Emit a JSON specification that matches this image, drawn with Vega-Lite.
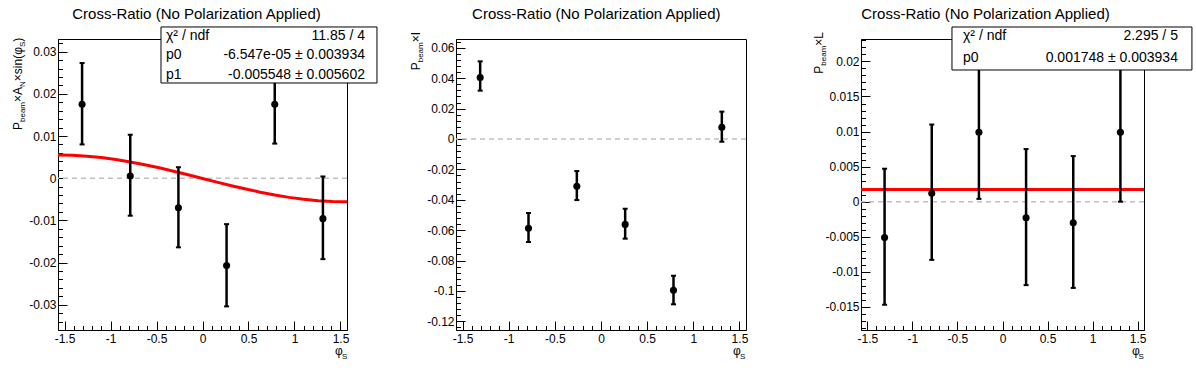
{
 "$schema": "https://vega.github.io/schema/vega-lite/v6.json",
 "background": "white",
 "padding": {"left": 11, "top": 6, "right": 0, "bottom": 0},
 "config": {
  "font": "Liberation Sans",
  "view": {"stroke": "black", "strokeWidth": 1},
  "axis": {"grid": false, "domainColor": "black", "domainWidth": 1, "tickColor": "black", "tickWidth": 1, "labelFont": "Liberation Sans", "labelFontSize": 12, "labelColor": "black", "labelOverlap": false, "labelFlush": false}
 },
 "datasets": {
  "d1": [
   {"x": -1.309, "y": 0.0175, "lo": 0.008, "hi": 0.0273},
   {"x": -0.7854, "y": 0.0005, "lo": -0.0089, "hi": 0.0103},
   {"x": -0.2618, "y": -0.007, "lo": -0.0164, "hi": 0.0026},
   {"x": 0.2618, "y": -0.0207, "lo": -0.0304, "hi": -0.0109},
   {"x": 0.7854, "y": 0.0175, "lo": 0.0082, "hi": 0.027},
   {"x": 1.309, "y": -0.0096, "lo": -0.0192, "hi": 0.0004}
  ],
  "fit1": [
   {"x": -1.5708, "y": 0.005483}, {"x": -1.4137, "y": 0.005414}, {"x": -1.2566, "y": 0.005211},
   {"x": -1.0996, "y": 0.004878}, {"x": -0.9425, "y": 0.004423}, {"x": -0.7854, "y": 0.003858},
   {"x": -0.6283, "y": 0.003195}, {"x": -0.4712, "y": 0.002453}, {"x": -0.3142, "y": 0.001649},
   {"x": -0.1571, "y": 0.000802}, {"x": 0, "y": -0.0000655}, {"x": 0.1571, "y": -0.000933},
   {"x": 0.3142, "y": -0.00178}, {"x": 0.4712, "y": -0.002584}, {"x": 0.6283, "y": -0.003327},
   {"x": 0.7854, "y": -0.003989}, {"x": 0.9425, "y": -0.004554}, {"x": 1.0996, "y": -0.005009},
   {"x": 1.2566, "y": -0.005342}, {"x": 1.4137, "y": -0.005545}, {"x": 1.5708, "y": -0.005614}
  ],
  "d2": [
   {"x": -1.309, "y": 0.0404, "lo": 0.0318, "hi": 0.0511},
   {"x": -0.7854, "y": -0.0588, "lo": -0.0678, "hi": -0.0487},
   {"x": -0.2618, "y": -0.0311, "lo": -0.0402, "hi": -0.0211},
   {"x": 0.2618, "y": -0.0562, "lo": -0.0656, "hi": -0.0459},
   {"x": 0.7854, "y": -0.0996, "lo": -0.1088, "hi": -0.09},
   {"x": 1.309, "y": 0.0077, "lo": -0.0018, "hi": 0.018}
  ],
  "d3": [
   {"x": -1.309, "y": -0.0051, "lo": -0.0147, "hi": 0.0047},
   {"x": -0.7854, "y": 0.0012, "lo": -0.0083, "hi": 0.011},
   {"x": -0.2618, "y": 0.0099, "lo": 0.0004, "hi": 0.0196},
   {"x": 0.2618, "y": -0.0023, "lo": -0.0119, "hi": 0.0075},
   {"x": 0.7854, "y": -0.003, "lo": -0.0123, "hi": 0.0065},
   {"x": 1.309, "y": 0.0099, "lo": 0.0, "hi": 0.0197}
  ],
  "fit3": [{"x": -1.5708, "y": 0.001748}, {"x": 1.5708, "y": 0.001748}]
 },
 "hconcat": [
  {
   "width": 289, "height": 291,
   "resolve": {"axis": {"x": "independent", "y": "independent"}},
   "layer": [
    {"data": {"values": [{}]}, "mark": {"type": "rule", "color": "#c0c0c0", "strokeDash": [5, 4], "strokeWidth": 1.5}, "encoding": {"y": {"datum": 0, "type": "quantitative", "axis": null}}},
    {"data": {"name": "fit1"}, "mark": {"type": "line", "color": "#ff0000", "strokeWidth": 3}, "encoding": {"x": {"field": "x", "type": "quantitative", "axis": null}, "y": {"field": "y", "type": "quantitative", "axis": null}}},
    {"data": {"name": "d1"}, "mark": {"type": "rule", "color": "black", "strokeWidth": 2.5},
     "encoding": {
      "x": {"field": "x", "type": "quantitative", "axis": {"orient": "bottom", "title": null, "labels": false, "domain": false, "tickSize": -4.5, "values": [-1.4,-1.3,-1.2,-1.1,-0.9,-0.8,-0.7,-0.6,-0.4,-0.3,-0.2,-0.1,0.1,0.2,0.3,0.4,0.6,0.7,0.8,0.9,1.1,1.2,1.3,1.4]}},
      "y": {"field": "lo", "type": "quantitative", "axis": {"orient": "left", "title": null, "labels": false, "domain": false, "tickSize": -4.5, "values": [-0.034,-0.032,-0.028,-0.026,-0.024,-0.022,-0.018,-0.016,-0.014,-0.012,-0.008,-0.006,-0.004,-0.002,0.002,0.004,0.006,0.008,0.012,0.014,0.016,0.018,0.022,0.024,0.026,0.028,0.032]}},
      "y2": {"field": "hi"}}},
    {"data": {"name": "d1"}, "mark": {"type": "tick", "orient": "horizontal", "color": "black", "size": 5, "thickness": 2, "opacity": 1}, "encoding": {"x": {"field": "x", "type": "quantitative", "axis": null}, "y": {"field": "lo", "type": "quantitative", "axis": null}}},
    {"data": {"name": "d1"}, "mark": {"type": "tick", "orient": "horizontal", "color": "black", "size": 5, "thickness": 2, "opacity": 1}, "encoding": {"x": {"field": "x", "type": "quantitative", "axis": null}, "y": {"field": "hi", "type": "quantitative", "axis": null}}},
    {"data": {"name": "d1"}, "mark": {"type": "circle", "color": "black", "size": 50, "opacity": 1},
     "encoding": {
      "x": {"field": "x", "type": "quantitative", "scale": {"domain": [-1.5708, 1.5708], "nice": false, "zero": false},
            "axis": {"orient": "bottom", "title": null, "values": [-1.5,-1,-0.5,0,0.5,1,1.5], "tickSize": -9, "labelExpr": "''+datum.value", "labelPadding": 12}},
      "y": {"field": "y", "type": "quantitative", "scale": {"domain": [-0.036, 0.033], "nice": false, "zero": false},
            "axis": {"orient": "left", "title": null, "values": [-0.03,-0.02,-0.01,0,0.01,0.02,0.03], "tickSize": -9, "labelExpr": "''+datum.value", "labelPadding": 11}}
     }},
    {"data": {"values": [{}]}, "mark": {"type": "rect", "fill": "white", "stroke": "black", "strokeWidth": 1}, "encoding": {"x": {"datum": -0.4512, "type": "quantitative", "axis": null}, "x2": {"datum": 1.8966}, "y": {"datum": 0.03585, "type": "quantitative", "axis": null}, "y2": {"datum": 0.02257}}},
    {"data": {"values": [{}]}, "mark": {"type": "text", "text": "χ² / ndf", "fontSize": 14, "align": "left", "baseline": "middle", "color": "black"}, "encoding": {"x": {"datum": -0.3969, "type": "quantitative", "axis": null}, "y": {"datum": 0.03371, "type": "quantitative", "axis": null}}},
    {"data": {"values": [{}]}, "mark": {"type": "text", "text": "11.85 / 4", "fontSize": 14, "align": "right", "baseline": "middle", "color": "black"}, "encoding": {"x": {"datum": 1.7662, "type": "quantitative", "axis": null}, "y": {"datum": 0.03371, "type": "quantitative", "axis": null}}},
    {"data": {"values": [{}]}, "mark": {"type": "text", "text": "p0", "fontSize": 14, "align": "left", "baseline": "middle", "color": "black"}, "encoding": {"x": {"datum": -0.3969, "type": "quantitative", "axis": null}, "y": {"datum": 0.02909, "type": "quantitative", "axis": null}}},
    {"data": {"values": [{}]}, "mark": {"type": "text", "text": "-6.547e-05 ± 0.003934", "fontSize": 14, "align": "right", "baseline": "middle", "color": "black"}, "encoding": {"x": {"datum": 1.7662, "type": "quantitative", "axis": null}, "y": {"datum": 0.02909, "type": "quantitative", "axis": null}}},
    {"data": {"values": [{}]}, "mark": {"type": "text", "text": "p1", "fontSize": 14, "align": "left", "baseline": "middle", "color": "black"}, "encoding": {"x": {"datum": -0.3969, "type": "quantitative", "axis": null}, "y": {"datum": 0.02446, "type": "quantitative", "axis": null}}},
    {"data": {"values": [{}]}, "mark": {"type": "text", "text": "-0.005548 ± 0.005602", "fontSize": 14, "align": "right", "baseline": "middle", "color": "black"}, "encoding": {"x": {"datum": 1.7662, "type": "quantitative", "axis": null}, "y": {"datum": 0.02446, "type": "quantitative", "axis": null}}},
    {"data": {"values": [{}]}, "mark": {"type": "text", "text": "Cross-Ratio (No Polarization Applied)", "fontSize": 15, "align": "center", "baseline": "alphabetic", "dx": -6, "dy": -20.5, "color": "black"}, "encoding": {"x": {"datum": 0, "type": "quantitative", "axis": null}, "y": {"datum": 0.033, "type": "quantitative", "axis": null}}},
    {"data": {"values": [{}]}, "mark": {"type": "text", "text": "P", "fontSize": 12, "angle": 270, "align": "left", "baseline": "alphabetic", "dx": -91, "dy": -36, "color": "black"}, "encoding": {"x": {"datum": -1.5708, "type": "quantitative", "axis": null}, "y": {"datum": 0.033, "type": "quantitative", "axis": null}}},
    {"data": {"values": [{}]}, "mark": {"type": "text", "text": "beam", "fontSize": 8, "angle": 270, "align": "left", "baseline": "alphabetic", "dx": -83, "dy": -33, "color": "black"}, "encoding": {"x": {"datum": -1.5708, "type": "quantitative", "axis": null}, "y": {"datum": 0.033, "type": "quantitative", "axis": null}}},
    {"data": {"values": [{}]}, "mark": {"type": "text", "text": "×A", "fontSize": 12, "angle": 270, "align": "left", "baseline": "alphabetic", "dx": -63, "dy": -36, "color": "black"}, "encoding": {"x": {"datum": -1.5708, "type": "quantitative", "axis": null}, "y": {"datum": 0.033, "type": "quantitative", "axis": null}}},
    {"data": {"values": [{}]}, "mark": {"type": "text", "text": "N", "fontSize": 8, "angle": 270, "align": "left", "baseline": "alphabetic", "dx": -48, "dy": -33, "color": "black"}, "encoding": {"x": {"datum": -1.5708, "type": "quantitative", "axis": null}, "y": {"datum": 0.033, "type": "quantitative", "axis": null}}},
    {"data": {"values": [{}]}, "mark": {"type": "text", "text": "×sin(φ", "fontSize": 12, "angle": 270, "align": "left", "baseline": "alphabetic", "dx": -42.2, "dy": -36, "color": "black"}, "encoding": {"x": {"datum": -1.5708, "type": "quantitative", "axis": null}, "y": {"datum": 0.033, "type": "quantitative", "axis": null}}},
    {"data": {"values": [{}]}, "mark": {"type": "text", "text": "S", "fontSize": 8, "angle": 270, "align": "left", "baseline": "alphabetic", "dx": -8.1, "dy": -33, "color": "black"}, "encoding": {"x": {"datum": -1.5708, "type": "quantitative", "axis": null}, "y": {"datum": 0.033, "type": "quantitative", "axis": null}}},
    {"data": {"values": [{}]}, "mark": {"type": "text", "text": ")", "fontSize": 12, "angle": 270, "align": "left", "baseline": "alphabetic", "dx": -2.8, "dy": -36, "color": "black"}, "encoding": {"x": {"datum": -1.5708, "type": "quantitative", "axis": null}, "y": {"datum": 0.033, "type": "quantitative", "axis": null}}},
    {"data": {"values": [{}]}, "mark": {"type": "text", "text": "φ", "fontSize": 12, "align": "left", "baseline": "alphabetic", "dx": -12, "dy": 25, "color": "black"}, "encoding": {"x": {"datum": 1.5708, "type": "quantitative", "axis": null}, "y": {"datum": -0.036, "type": "quantitative", "axis": null}}},
    {"data": {"values": [{}]}, "mark": {"type": "text", "text": "S", "fontSize": 8, "align": "left", "baseline": "alphabetic", "dx": -5, "dy": 28.5, "color": "black"}, "encoding": {"x": {"datum": 1.5708, "type": "quantitative", "axis": null}, "y": {"datum": -0.036, "type": "quantitative", "axis": null}}}
   ]
  },
  {"width": 109, "height": 291, "view": {"stroke": null}, "data": {"values": []}, "mark": "point"},
  {
   "width": 290, "height": 291,
   "resolve": {"axis": {"x": "independent", "y": "independent"}},
   "layer": [
    {"data": {"values": [{}]}, "mark": {"type": "rule", "color": "#c0c0c0", "strokeDash": [5, 4], "strokeWidth": 1.5}, "encoding": {"y": {"datum": 0, "type": "quantitative", "axis": null}}},
    {"data": {"name": "d2"}, "mark": {"type": "rule", "color": "black", "strokeWidth": 2.5},
     "encoding": {
      "x": {"field": "x", "type": "quantitative", "axis": {"orient": "bottom", "title": null, "labels": false, "domain": false, "tickSize": -4.5, "values": [-1.4,-1.3,-1.2,-1.1,-0.9,-0.8,-0.7,-0.6,-0.4,-0.3,-0.2,-0.1,0.1,0.2,0.3,0.4,0.6,0.7,0.8,0.9,1.1,1.2,1.3,1.4]}},
      "y": {"field": "lo", "type": "quantitative", "axis": {"orient": "left", "title": null, "labels": false, "domain": false, "tickSize": -4.5, "values": [-0.124,-0.116,-0.112,-0.108,-0.104,-0.096,-0.092,-0.088,-0.084,-0.076,-0.072,-0.068,-0.064,-0.056,-0.052,-0.048,-0.044,-0.036,-0.032,-0.028,-0.024,-0.016,-0.012,-0.008,-0.004,0.004,0.008,0.012,0.016,0.024,0.028,0.032,0.036,0.044,0.048,0.052,0.056,0.064]}},
      "y2": {"field": "hi"}}},
    {"data": {"name": "d2"}, "mark": {"type": "tick", "orient": "horizontal", "color": "black", "size": 5, "thickness": 2, "opacity": 1}, "encoding": {"x": {"field": "x", "type": "quantitative", "axis": null}, "y": {"field": "lo", "type": "quantitative", "axis": null}}},
    {"data": {"name": "d2"}, "mark": {"type": "tick", "orient": "horizontal", "color": "black", "size": 5, "thickness": 2, "opacity": 1}, "encoding": {"x": {"field": "x", "type": "quantitative", "axis": null}, "y": {"field": "hi", "type": "quantitative", "axis": null}}},
    {"data": {"name": "d2"}, "mark": {"type": "circle", "color": "black", "size": 50, "opacity": 1},
     "encoding": {
      "x": {"field": "x", "type": "quantitative", "scale": {"domain": [-1.5708, 1.5708], "nice": false, "zero": false},
            "axis": {"orient": "bottom", "title": null, "values": [-1.5,-1,-0.5,0,0.5,1,1.5], "tickSize": -9, "labelExpr": "''+datum.value", "labelPadding": 12}},
      "y": {"field": "y", "type": "quantitative", "scale": {"domain": [-0.1257, 0.0658], "nice": false, "zero": false},
            "axis": {"orient": "left", "title": null, "values": [-0.12,-0.1,-0.08,-0.06,-0.04,-0.02,0,0.02,0.04,0.06], "tickSize": -9, "labelExpr": "''+datum.value", "labelPadding": 11}}
     }},
    {"data": {"values": [{}]}, "mark": {"type": "text", "text": "Cross-Ratio (No Polarization Applied)", "fontSize": 15, "align": "center", "baseline": "alphabetic", "dx": -4.7, "dy": -20.5, "color": "black"}, "encoding": {"x": {"datum": 0, "type": "quantitative", "axis": null}, "y": {"datum": 0.0658, "type": "quantitative", "axis": null}}},
    {"data": {"values": [{}]}, "mark": {"type": "text", "text": "P", "fontSize": 12, "angle": 270, "align": "left", "baseline": "alphabetic", "dx": -31.3, "dy": -36, "color": "black"}, "encoding": {"x": {"datum": -1.5708, "type": "quantitative", "axis": null}, "y": {"datum": 0.0658, "type": "quantitative", "axis": null}}},
    {"data": {"values": [{}]}, "mark": {"type": "text", "text": "beam", "fontSize": 8, "angle": 270, "align": "left", "baseline": "alphabetic", "dx": -23.3, "dy": -33, "color": "black"}, "encoding": {"x": {"datum": -1.5708, "type": "quantitative", "axis": null}, "y": {"datum": 0.0658, "type": "quantitative", "axis": null}}},
    {"data": {"values": [{}]}, "mark": {"type": "text", "text": "×I", "fontSize": 12, "angle": 270, "align": "left", "baseline": "alphabetic", "dx": -3.3, "dy": -36, "color": "black"}, "encoding": {"x": {"datum": -1.5708, "type": "quantitative", "axis": null}, "y": {"datum": 0.0658, "type": "quantitative", "axis": null}}},
    {"data": {"values": [{}]}, "mark": {"type": "text", "text": "φ", "fontSize": 12, "align": "left", "baseline": "alphabetic", "dx": -13, "dy": 25, "color": "black"}, "encoding": {"x": {"datum": 1.5708, "type": "quantitative", "axis": null}, "y": {"datum": -0.1257, "type": "quantitative", "axis": null}}},
    {"data": {"values": [{}]}, "mark": {"type": "text", "text": "S", "fontSize": 8, "align": "left", "baseline": "alphabetic", "dx": -6, "dy": 28.5, "color": "black"}, "encoding": {"x": {"datum": 1.5708, "type": "quantitative", "axis": null}, "y": {"datum": -0.1257, "type": "quantitative", "axis": null}}}
   ]
  },
  {"width": 115, "height": 291, "view": {"stroke": null}, "data": {"values": []}, "mark": "point"},
  {
   "width": 283, "height": 291,
   "resolve": {"axis": {"x": "independent", "y": "independent"}},
   "layer": [
    {"data": {"values": [{}]}, "mark": {"type": "rule", "color": "#c0c0c0", "strokeDash": [5, 4], "strokeWidth": 1.5}, "encoding": {"y": {"datum": 0, "type": "quantitative", "axis": null}}},
    {"data": {"name": "fit3"}, "mark": {"type": "line", "color": "#ff0000", "strokeWidth": 3}, "encoding": {"x": {"field": "x", "type": "quantitative", "axis": null}, "y": {"field": "y", "type": "quantitative", "axis": null}}},
    {"data": {"name": "d3"}, "mark": {"type": "rule", "color": "black", "strokeWidth": 2.5},
     "encoding": {
      "x": {"field": "x", "type": "quantitative", "axis": {"orient": "bottom", "title": null, "labels": false, "domain": false, "tickSize": -4.5, "values": [-1.4,-1.3,-1.2,-1.1,-0.9,-0.8,-0.7,-0.6,-0.4,-0.3,-0.2,-0.1,0.1,0.2,0.3,0.4,0.6,0.7,0.8,0.9,1.1,1.2,1.3,1.4]}},
      "y": {"field": "lo", "type": "quantitative", "axis": {"orient": "left", "title": null, "labels": false, "domain": false, "tickSize": -4.5, "values": [-0.018,-0.017,-0.016,-0.014,-0.013,-0.012,-0.011,-0.009,-0.008,-0.007,-0.006,-0.004,-0.003,-0.002,-0.001,0.001,0.002,0.003,0.004,0.006,0.007,0.008,0.009,0.011,0.012,0.013,0.014,0.016,0.017,0.018,0.019,0.021,0.022,0.023]}},
      "y2": {"field": "hi"}}},
    {"data": {"name": "d3"}, "mark": {"type": "tick", "orient": "horizontal", "color": "black", "size": 5, "thickness": 2, "opacity": 1}, "encoding": {"x": {"field": "x", "type": "quantitative", "axis": null}, "y": {"field": "lo", "type": "quantitative", "axis": null}}},
    {"data": {"name": "d3"}, "mark": {"type": "tick", "orient": "horizontal", "color": "black", "size": 5, "thickness": 2, "opacity": 1}, "encoding": {"x": {"field": "x", "type": "quantitative", "axis": null}, "y": {"field": "hi", "type": "quantitative", "axis": null}}},
    {"data": {"name": "d3"}, "mark": {"type": "circle", "color": "black", "size": 50, "opacity": 1},
     "encoding": {
      "x": {"field": "x", "type": "quantitative", "scale": {"domain": [-1.5708, 1.5708], "nice": false, "zero": false},
            "axis": {"orient": "bottom", "title": null, "values": [-1.5,-1,-0.5,0,0.5,1,1.5], "tickSize": -9, "labelExpr": "''+datum.value", "labelPadding": 12}},
      "y": {"field": "y", "type": "quantitative", "scale": {"domain": [-0.0183, 0.0232], "nice": false, "zero": false},
            "axis": {"orient": "left", "title": null, "values": [-0.015,-0.01,-0.005,0,0.005,0.01,0.015,0.02], "tickSize": -9, "labelExpr": "''+datum.value", "labelPadding": 11}}
     }},
    {"data": {"values": [{}]}, "mark": {"type": "rect", "fill": "white", "stroke": "black", "strokeWidth": 1}, "encoding": {"x": {"datum": -0.5608, "type": "quantitative", "axis": null}, "x2": {"datum": 2.1029}, "y": {"datum": 0.02491, "type": "quantitative", "axis": null}, "y2": {"datum": 0.01878}}},
    {"data": {"values": [{}]}, "mark": {"type": "text", "text": "χ² / ndf", "fontSize": 14, "align": "left", "baseline": "middle", "color": "black"}, "encoding": {"x": {"datum": -0.4387, "type": "quantitative", "axis": null}, "y": {"datum": 0.02363, "type": "quantitative", "axis": null}}},
    {"data": {"values": [{}]}, "mark": {"type": "text", "text": "2.295 / 5", "fontSize": 14, "align": "right", "baseline": "middle", "color": "black"}, "encoding": {"x": {"datum": 1.9475, "type": "quantitative", "axis": null}, "y": {"datum": 0.02363, "type": "quantitative", "axis": null}}},
    {"data": {"values": [{}]}, "mark": {"type": "text", "text": "p0", "fontSize": 14, "align": "left", "baseline": "middle", "color": "black"}, "encoding": {"x": {"datum": -0.4387, "type": "quantitative", "axis": null}, "y": {"datum": 0.02042, "type": "quantitative", "axis": null}}},
    {"data": {"values": [{}]}, "mark": {"type": "text", "text": "0.001748 ± 0.003934", "fontSize": 14, "align": "right", "baseline": "middle", "color": "black"}, "encoding": {"x": {"datum": 1.9475, "type": "quantitative", "axis": null}, "y": {"datum": 0.02042, "type": "quantitative", "axis": null}}},
    {"data": {"values": [{}]}, "mark": {"type": "text", "text": "Cross-Ratio (No Polarization Applied)", "fontSize": 15, "align": "center", "baseline": "alphabetic", "dx": -17, "dy": -20.5, "color": "black"}, "encoding": {"x": {"datum": 0, "type": "quantitative", "axis": null}, "y": {"datum": 0.0232, "type": "quantitative", "axis": null}}},
    {"data": {"values": [{}]}, "mark": {"type": "text", "text": "P", "fontSize": 12, "angle": 270, "align": "left", "baseline": "alphabetic", "dx": -34.7, "dy": -38, "color": "black"}, "encoding": {"x": {"datum": -1.5708, "type": "quantitative", "axis": null}, "y": {"datum": 0.0232, "type": "quantitative", "axis": null}}},
    {"data": {"values": [{}]}, "mark": {"type": "text", "text": "beam", "fontSize": 8, "angle": 270, "align": "left", "baseline": "alphabetic", "dx": -26.7, "dy": -35, "color": "black"}, "encoding": {"x": {"datum": -1.5708, "type": "quantitative", "axis": null}, "y": {"datum": 0.0232, "type": "quantitative", "axis": null}}},
    {"data": {"values": [{}]}, "mark": {"type": "text", "text": "×L", "fontSize": 12, "angle": 270, "align": "left", "baseline": "alphabetic", "dx": -6.7, "dy": -38, "color": "black"}, "encoding": {"x": {"datum": -1.5708, "type": "quantitative", "axis": null}, "y": {"datum": 0.0232, "type": "quantitative", "axis": null}}},
    {"data": {"values": [{}]}, "mark": {"type": "text", "text": "φ", "fontSize": 12, "align": "left", "baseline": "alphabetic", "dx": -12, "dy": 25, "color": "black"}, "encoding": {"x": {"datum": 1.5708, "type": "quantitative", "axis": null}, "y": {"datum": -0.0183, "type": "quantitative", "axis": null}}},
    {"data": {"values": [{}]}, "mark": {"type": "text", "text": "S", "fontSize": 8, "align": "left", "baseline": "alphabetic", "dx": -5.5, "dy": 28.5, "color": "black"}, "encoding": {"x": {"datum": 1.5708, "type": "quantitative", "axis": null}, "y": {"datum": -0.0183, "type": "quantitative", "axis": null}}}
   ]
  }
 ],
 "spacing": 0,
 "bounds": "flush"
}
